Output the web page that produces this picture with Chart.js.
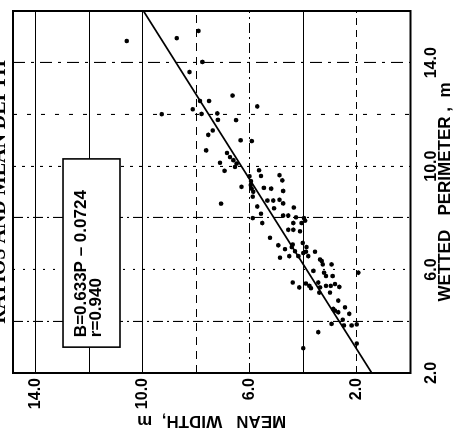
<!DOCTYPE html>
<html>
<head>
<meta charset="utf-8">
<script src="https://cdn.jsdelivr.net/npm/chart.js@4.4.1/dist/chart.umd.min.js"></script>
<style>
html, body { margin: 0; padding: 0; background: #fff; overflow: hidden; width: 465px; height: 438px; }
/* the scanned figure is turned on its side, so the chart is drawn upright and rotated */
#wrap { position: absolute; left: 10px; top: -17px; width: 438px; height: 472px; transform: rotate(-90deg); transform-origin: 50% 50%; }
#chart { display: block; }
</style>
</head>
<body>
<div id="wrap"><canvas id="chart" width="438" height="472"></canvas></div>
<script>
//-------------------------------------------------------------------
// Mean width vs wetted perimeter
//-------------------------------------------------------------------
const perimeter = [
    14.84, 14.95, 15.23, 14.03, 13.64, 12.73, 12.52, 12.52, 12.20, 12.01,
    12.04, 12.02, 11.78, 11.79, 12.31, 11.38, 11.21, 11.00, 10.97, 10.61,
    10.51, 10.13, 10.35, 10.23, 10.10, 9.97, 9.82, 9.84, 9.62, 9.65,
    9.45, 9.61, 9.42, 9.20, 9.27, 9.13, 9.01, 9.16, 9.13, 9.04,
    8.82, 8.67, 8.67, 8.70, 8.56, 8.55, 8.44, 8.37, 8.40, 8.16,
    8.09, 8.09, 8.02, 7.99, 7.80, 7.80, 7.80, 7.89, 7.99, 7.54,
    7.54, 7.48, 7.23, 6.94, 6.79, 6.87, 6.97, 6.71, 6.52, 6.52,
    7.03, 6.87, 6.69, 6.64, 6.52, 6.69, 6.39, 6.46, 6.33, 6.20,
    6.20, 5.95, 5.88, 5.75, 5.75, 5.50, 5.31, 5.46, 5.37, 5.28,
    5.50, 5.31, 5.11, 5.37, 5.37, 5.44, 5.33, 5.11, 5.88, 4.80,
    4.48, 4.41, 4.35, 4.54, 4.29, 4.06, 3.90, 3.84, 3.84, 3.88,
    3.58, 3.14, 2.96
];
const meanWidth = [
    10.61, 8.74, 7.93, 7.78, 8.26, 6.65, 7.87, 7.53, 8.14, 9.30,
    7.22, 7.81, 6.52, 7.20, 5.73, 7.39, 7.56, 6.35, 5.93, 7.64,
    6.86, 7.12, 6.75, 6.62, 6.50, 6.56, 6.95, 5.66, 5.59, 4.90,
    4.79, 6.02, 5.96, 6.32, 5.97, 5.94, 5.88, 5.48, 5.21, 4.76,
    5.90, 5.35, 5.13, 4.90, 4.76, 7.08, 5.73, 5.10, 4.36, 5.59,
    4.76, 4.57, 4.28, 5.90, 5.54, 4.38, 4.07, 3.94, 3.98, 4.57,
    4.38, 4.13, 5.25, 4.94, 4.69, 4.44, 4.40, 4.32, 4.19, 4.53,
    4.03, 3.89, 3.91, 4.01, 3.82, 3.57, 3.38, 4.88, 3.32, 3.28,
    2.95, 3.63, 3.23, 3.16, 2.91, 4.40, 4.16, 3.91, 3.78, 3.72,
    3.45, 3.38, 3.41, 3.16, 2.98, 2.82, 2.66, 3.01, 1.95, 2.70,
    2.89, 2.82, 2.70, 2.45, 2.29, 2.53, 2.95, 2.49, 2.20, 2.01,
    3.45, 2.01, 4.01
];
// fitted line, end points
const fitPerimeter = [2, 16];
const fitWidth = [1.45, 9.98];

const perimTickValues = [2, 6, 10, 14];
const perimTickLabels = ['2.0', '6.0', '10.0', '14.0'];
const widthTickValues = [2, 6, 10, 14];
const widthTickLabels = ['2.0', '6.0', '10.0', '14.0'];
const equationLines = ['B=0.633P \u2013 0.0724', 'r=0.940'];

const pts = perimeter.map((p, i) => ({x: p, y: meanWidth[i]}));
const fit = fitPerimeter.map((p, i) => ({x: p, y: fitWidth[i]}));

const labelFont = {family: "'Liberation Sans Narrow', 'Liberation Sans', sans-serif", size: 16, weight: 'bold'};
const titleFont = {family: "'Liberation Sans Narrow', 'Liberation Sans', sans-serif", size: 17, weight: 'bold'};

// dash styles of the (copied, patchy) grid lines
const widthDash = {2: [7, 5], 4: [], 6: [10, 4, 2, 4], 8: [8, 6], 10: [], 12: [], 14: []};
const perimDash = {4: [10, 4, 2, 4], 6: [2, 8], 8: [10, 4, 2, 4], 10: [3, 6], 12: [4, 10], 14: [12, 6, 3, 6]};

/*------------------------------------------------------*/
// frame round the plot and the equation box
/*------------------------------------------------------*/
const framePlugin = {
    id: 'frame',
    afterDraw(chart) {
        const {ctx, chartArea: a, scales: {x, y}} = chart;
        ctx.save();
        ctx.strokeStyle = '#000';
        ctx.lineWidth = 2;
        ctx.strokeRect(a.left, a.top, a.right - a.left, a.bottom - a.top);

        const l = x.getPixelForValue(3.0), r = x.getPixelForValue(10.28);
        const t = y.getPixelForValue(12.99), b = y.getPixelForValue(10.86);
        ctx.fillStyle = '#fff';
        ctx.fillRect(l, t, r - l, b - t);
        ctx.lineWidth = 1.6;
        ctx.strokeRect(l, t, r - l, b - t);
        ctx.fillStyle = '#000';
        ctx.font = "bold 17px 'Liberation Sans Narrow', 'Liberation Sans', sans-serif";
        ctx.textBaseline = 'middle';
        ctx.fillText(equationLines[0], l + 10, t + 18, 155);
        ctx.fillText(equationLines[1], l + 10, t + 33, 80);
        ctx.restore();
    }
};

const chart = new Chart(document.getElementById('chart'), {
    type: 'scatter',
    data: {
        datasets: [
            {
                data: pts,
                pointRadius: 2.3,
                pointBorderWidth: 0,
                pointBackgroundColor: '#000',
                backgroundColor: '#000'
            },
            {
                type: 'line',
                data: fit,
                borderColor: '#000',
                borderWidth: 1.8,
                pointRadius: 0,
                fill: false,
                tension: 0
            }
        ]
    },
    options: {
        responsive: false,
        animation: false,
        devicePixelRatio: 1,
        layout: {padding: {left: 0, right: 7, top: 0, bottom: 0}},
        plugins: {
            legend: {display: false},
            tooltip: {enabled: false},
            title: {
                // cut off by the page edge in the scan
                display: true,
                text: 'RATIOS AND MEAN DEPTH',
                fullSize: false,
                color: '#000',
                font: {family: "'Liberation Serif', serif", size: 20, weight: 'bold', lineHeight: 1},
                padding: {top: -3, bottom: 3}
            }
        },
        scales: {
            x: {
                type: 'linear',
                position: 'bottom',
                min: 2,
                max: 16,
                afterFit: s => { s.height = 54.5; },
                ticks: {
                    stepSize: 2,
                    autoSkip: false,
                    maxRotation: 0,
                    padding: 11,
                    color: '#000',
                    font: labelFont,
                    callback: v => {
                        const i = perimTickValues.indexOf(v);
                        return i < 0 ? '' : perimTickLabels[i];
                    }
                },
                grid: {
                    drawTicks: false,
                    color: '#000',
                    lineWidth: ctx => (ctx.tick && perimDash[ctx.tick.value]) ? 1.1 : 0
                },
                border: {
                    display: false,
                    dash: ctx => (ctx.tick && perimDash[ctx.tick.value]) || []
                },
                title: {
                    display: true,
                    text: 'WETTED   PERIMETER ,  m',
                    color: '#000',
                    font: titleFont,
                    padding: {top: 0, bottom: 9}
                }
            },
            y: {
                type: 'linear',
                position: 'left',
                min: 0,
                max: 14.86,
                afterFit: s => { s.width = 65; },
                ticks: {
                    stepSize: 2,
                    includeBounds: false,
                    autoSkip: false,
                    padding: 5,
                    color: '#000',
                    font: labelFont,
                    callback: v => {
                        const i = widthTickValues.indexOf(v);
                        return i < 0 ? '' : widthTickLabels[i];
                    }
                },
                grid: {
                    drawTicks: false,
                    color: '#000',
                    lineWidth: ctx => (ctx.tick && widthDash[ctx.tick.value]) ? 1.1 : 0
                },
                border: {
                    display: false,
                    dash: ctx => (ctx.tick && widthDash[ctx.tick.value]) || []
                },
                title: {
                    display: true,
                    text: 'MEAN   WIDTH,  m',
                    color: '#000',
                    font: titleFont,
                    padding: {top: 7, bottom: 0}
                }
            }
        }
    },
    plugins: [framePlugin]
});
</script>
</body>
</html>
